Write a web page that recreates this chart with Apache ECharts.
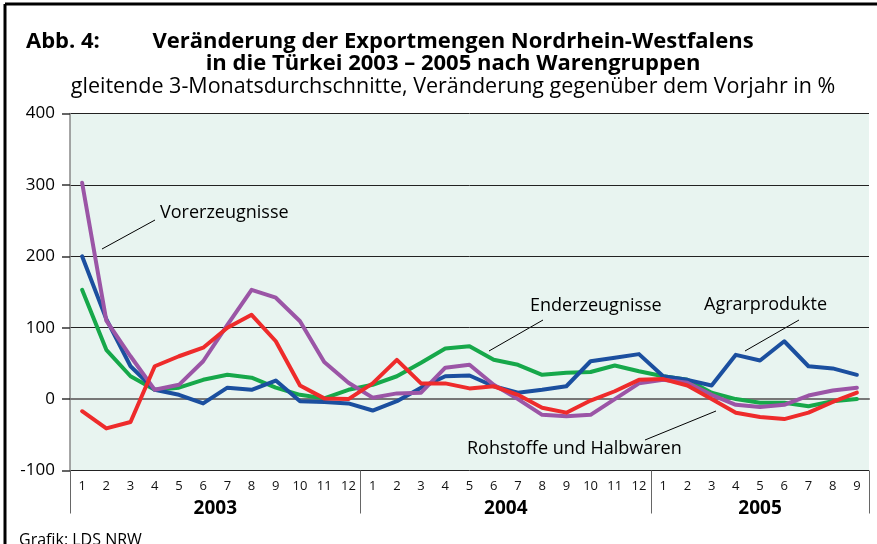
<!DOCTYPE html>
<html><head><meta charset="utf-8">
<script src="https://cdn.jsdelivr.net/npm/echarts@6/dist/echarts.min.js"></script>
<style>html,body{margin:0;padding:0;background:#fff}#c{width:877px;height:544px}</style>
</head><body><div id="c"></div>
<script>
const monthLabels = ['1','2','3','4','5','6','7','8','9','10','11','12',
                     '1','2','3','4','5','6','7','8','9','10','11','12',
                     '1','2','3','4','5','6','7','8','9'];
const years = ['2003','2004','2005'];
const monthsPerYear = [12,12,9];
const yTicks = [-100,0,100,200,300,400];

const vorerzeugnisse = [303,110,60,13,20,53,104,153,142,109,52,23,
                        2,8,9,44,48,20,0,-22,-24,-22,0,22,
                        27,23,6,-8,-11,-8,5,12,16];
const agrarprodukte = [200,112,46,13,6,-6,16,13,26,-3,-4,-6,
                       -16,-3,16,32,33,18,9,13,18,53,58,63,
                       32,27,19,62,54,81,46,43,34];
const enderzeugnisse = [153,69,32,13,16,27,34,30,16,6,1,13,
                        20,32,51,71,74,55,48,34,37,38,47,39,
                        32,27,9,0,-5,-5,-10,-3,0];
const rohstoffe = [-17,-41,-32,46,60,72,100,118,81,19,1,0,
                   22,55,22,22,15,18,6,-12,-19,-2,11,27,
                   28,19,0,-19,-25,-28,-19,-4,9];

const boundaries = [0];
const centers = [];
monthsPerYear.forEach((n,i)=>{ const s = boundaries[i]; centers.push(s + n/2); boundaries.push(s + n); });

const FONT = 'Open Sans';
const chart = echarts.init(document.getElementById('c'), null, {renderer:'canvas'});

function line(name, data, color, z){
  return {name, type:'line', data, symbol:'none', smooth:false, z,
    lineStyle:{color, width:4, join:'round', cap:'round'}, xAxisIndex:0};
}

chart.setOption({
  animation:false,
  textStyle:{fontFamily:FONT},
  title:[
    {text:'Abb. 4:', left:21, top:26, textStyle:{fontFamily:FONT, fontSize:22, fontWeight:'bold', color:'#000'}},
    {text:'Veränderung der Exportmengen Nordrhein-Westfalens', left:448, textAlign:'center', top:26, textStyle:{fontFamily:FONT, fontSize:22, fontWeight:'bold', color:'#000'}},
    {text:'in die Türkei 2003 – 2005 nach Warengruppen', left:448, textAlign:'center', top:48, textStyle:{fontFamily:FONT, fontSize:22, fontWeight:'bold', color:'#000'}},
    {text:'gleitende 3-Monatsdurchschnitte, Veränderung gegenüber dem Vorjahr in %', left:448, textAlign:'center', top:71, textStyle:{fontFamily:FONT, fontSize:21.5, fontWeight:'normal', color:'#000'}},
    {text:'Grafik: LDS NRW', left:14, top:527, textStyle:{fontFamily:FONT, fontSize:16, fontWeight:'normal', color:'#000'}}
  ],
  grid:{left:70, right:8, top:113.5, bottom:73.5, show:true, backgroundColor:'#e8f4f0', borderWidth:0},
  xAxis:[
    {type:'category', data:monthLabels, boundaryGap:true, position:'bottom',
     axisLine:{show:true, lineStyle:{color:'#777', width:2}},
     axisTick:{show:false},
     axisLabel:{interval:0, fontSize:13, margin:9, color:'#111', fontFamily:FONT},
     splitLine:{show:false}},
    {type:'value', min:0, max:monthLabels.length, position:'bottom',
     axisLine:{show:false}, splitLine:{show:false},
     axisTick:{show:true, customValues:boundaries, length:43, lineStyle:{color:'#666', width:1}},
     axisLabel:{customValues:centers, margin:29, fontSize:19, fontWeight:'bold', color:'#000', fontFamily:FONT,
       formatter:function(v){ const i = centers.indexOf(v); return i>=0 ? years[i] : ''; }}}
  ],
  yAxis:{type:'value', min:yTicks[0], max:yTicks[yTicks.length-1], interval:100,
    axisLine:{show:true, lineStyle:{color:'#888', width:1.5}},
    axisTick:{show:true, length:8, lineStyle:{color:'#333', width:1.5}},
    axisLabel:{fontSize:17, margin:15, color:'#000', fontFamily:FONT},
    splitLine:{show:true, lineStyle:{color:'#222', width:1}}},
  series:[
    line('Enderzeugnisse', enderzeugnisse, '#16a84a', 2),
    line('Agrarprodukte', agrarprodukte, '#1b4f9f', 3),
    line('Vorerzeugnisse', vorerzeugnisse, '#9b55a6', 4),
    line('Rohstoffe und Halbwaren', rohstoffe, '#ee2b2b', 5)
  ],
  graphic:[
    {type:'line', shape:{x1:5, y1:4, x2:877, y2:4}, style:{stroke:'#000', lineWidth:3}},
    {type:'line', shape:{x1:5, y1:4, x2:5, y2:544}, style:{stroke:'#000', lineWidth:3}},
    {type:'line', shape:{x1:102, y1:249, x2:155, y2:220}, style:{stroke:'#000', lineWidth:1}},
    {type:'text', left:160, top:204, style:{text:'Vorerzeugnisse', fontFamily:FONT, fontSize:18, fill:'#000'}},
    {type:'line', shape:{x1:489, y1:351, x2:543, y2:320}, style:{stroke:'#000', lineWidth:1}},
    {type:'text', left:530, top:297, style:{text:'Enderzeugnisse', fontFamily:FONT, fontSize:18, fill:'#000'}},
    {type:'line', shape:{x1:745, y1:351, x2:799, y2:320}, style:{stroke:'#000', lineWidth:1}},
    {type:'text', left:704, top:296, style:{text:'Agrarprodukte', fontFamily:FONT, fontSize:18, fill:'#000'}},
    {type:'line', shape:{x1:645, y1:440, x2:716, y2:411}, style:{stroke:'#000', lineWidth:1}},
    {type:'text', left:467, top:440, style:{text:'Rohstoffe und Halbwaren', fontFamily:FONT, fontSize:18, fill:'#000'}}
  ]
});
</script></body></html>
